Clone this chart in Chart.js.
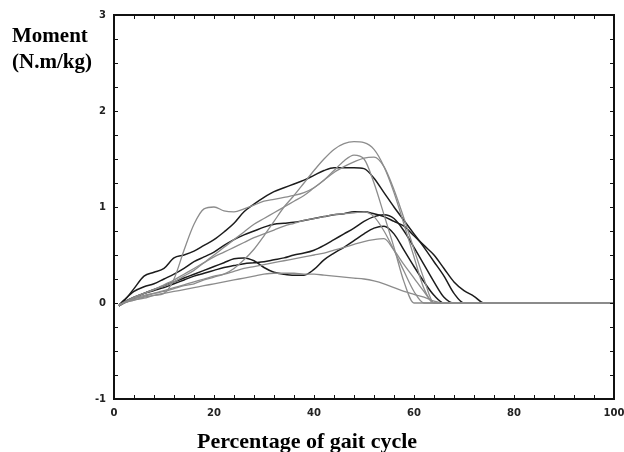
<!DOCTYPE html>
<html>
<head>
<meta charset="utf-8">
<script src="https://cdn.jsdelivr.net/npm/chart.js@4.4.1/dist/chart.umd.min.js"></script>
<style>
  html, body { margin: 0; padding: 0; background: #fff; }
  canvas { display: block; }
</style>
</head>
<body>
<canvas id="chart" width="624" height="452"></canvas>
<script>
// percentage of gait cycle (shared x grid)
const pct = [1, 2, 4, 6, 8, 10, 12, 14, 16, 18, 20, 22, 24, 26, 28, 30, 32, 34, 36, 38,
  40, 42, 44, 46, 48, 50, 52, 54, 56, 58, 60, 62, 64, 66, 68, 70, 72, 74, 100]

// moment curves (N.m/kg), one per trial
const trialA = [-0.02, 0, 0.05, 0.08, 0.1, 0.12, 0.15, 0.18, 0.2, 0.24, 0.27, 0.3, 0.36, 0.45, 0.56, 0.7, 0.85, 1.0, 1.12, 1.25,
  1.38, 1.5, 1.6, 1.66, 1.68, 1.67, 1.6, 1.42, 1.15, 0.82, 0.48, 0.15, 0, 0, 0, 0, 0, 0, 0]
const trialB = [-0.03, 0, 0.03, 0.06, 0.08, 0.1, 0.25, 0.55, 0.82, 0.98, 1.0, 0.96, 0.95, 0.98, 1.02, 1.06, 1.08, 1.1, 1.12, 1.15,
  1.2, 1.28, 1.38, 1.48, 1.54, 1.5, 1.25, 0.92, 0.58, 0.22, 0, 0, 0, 0, 0, 0, 0, 0, 0]
const trialC = [-0.02, 0, 0.06, 0.1, 0.14, 0.18, 0.22, 0.28, 0.34, 0.42, 0.5, 0.58, 0.66, 0.74, 0.82, 0.88, 0.94, 1.0, 1.06, 1.12,
  1.2, 1.28, 1.36, 1.42, 1.47, 1.51, 1.52, 1.42, 1.18, 0.88, 0.56, 0.25, 0, 0, 0, 0, 0, 0, 0]
const trialD = [-0.03, 0.02, 0.15, 0.28, 0.32, 0.36, 0.47, 0.5, 0.54, 0.6, 0.66, 0.74, 0.83, 0.95, 1.03, 1.1, 1.16, 1.2, 1.24, 1.28,
  1.33, 1.38, 1.41, 1.41, 1.41, 1.4, 1.3, 1.15, 1.0, 0.86, 0.72, 0.58, 0.43, 0.28, 0.1, 0, 0, 0, 0]
const trialE = [-0.02, 0.03, 0.12, 0.17, 0.2, 0.25, 0.3, 0.36, 0.43, 0.48, 0.53, 0.6, 0.66, 0.71, 0.75, 0.79, 0.82, 0.83, 0.84, 0.86,
  0.88, 0.9, 0.92, 0.93, 0.95, 0.95, 0.93, 0.9, 0.85, 0.8, 0.7, 0.6, 0.5, 0.36, 0.22, 0.13, 0.07, 0, 0]
const trialF = [-0.03, 0, 0.05, 0.1, 0.14, 0.18, 0.22, 0.26, 0.3, 0.34, 0.38, 0.42, 0.46, 0.47, 0.44, 0.37, 0.32, 0.3, 0.29, 0.29,
  0.35, 0.45, 0.52, 0.58, 0.65, 0.72, 0.78, 0.8, 0.72, 0.55, 0.38, 0.22, 0.08, 0, 0, 0, 0, 0, 0]
const trialG = [-0.02, 0, 0.03, 0.05, 0.08, 0.1, 0.12, 0.14, 0.16, 0.18, 0.2, 0.22, 0.24, 0.26, 0.28, 0.3, 0.31, 0.31, 0.31, 0.3,
  0.3, 0.29, 0.28, 0.27, 0.26, 0.25, 0.23, 0.2, 0.16, 0.12, 0.09, 0.06, 0.02, 0, 0, 0, 0, 0, 0]
const trialH = [-0.02, 0, 0.04, 0.07, 0.1, 0.13, 0.16, 0.19, 0.22, 0.25, 0.28, 0.3, 0.33, 0.36, 0.38, 0.4, 0.42, 0.44, 0.46, 0.48,
  0.5, 0.52, 0.55, 0.58, 0.61, 0.64, 0.66, 0.67, 0.55, 0.4, 0.26, 0.12, 0, 0, 0, 0, 0, 0, 0]
const trialI = [-0.03, 0.01, 0.06, 0.1, 0.13, 0.16, 0.2, 0.24, 0.28, 0.31, 0.34, 0.37, 0.39, 0.41, 0.42, 0.43, 0.45, 0.47, 0.5, 0.52,
  0.55, 0.6, 0.66, 0.72, 0.78, 0.85, 0.9, 0.92, 0.88, 0.75, 0.58, 0.4, 0.22, 0.06, 0, 0, 0, 0, 0]
const trialJ = [-0.02, 0.01, 0.06, 0.1, 0.14, 0.19, 0.24, 0.3, 0.36, 0.42, 0.48, 0.53, 0.58, 0.63, 0.68, 0.72, 0.76, 0.8, 0.83, 0.86,
  0.88, 0.9, 0.92, 0.93, 0.94, 0.95, 0.9, 0.75, 0.55, 0.33, 0.12, 0, 0, 0, 0, 0, 0, 0, 0]

// dark traces vs light grey traces
const darkTrials = [trialD, trialE, trialF, trialI]
const greyTrials = [trialA, trialB, trialC, trialG, trialH, trialJ]

// axis tick settings
const xTickStep = 20
const xMinorStep = 4
const yTickStep = 1
const yMinorStep = 0.25

const toPoints = vals => vals.map((v, i) => ({x: pct[i], y: v}))

const datasets = []
greyTrials.forEach(t => datasets.push({data: toPoints(t), borderColor: '#8c8c8c', borderWidth: 1.3}))
darkTrials.forEach(t => datasets.push({data: toPoints(t), borderColor: '#1c1c1c', borderWidth: 1.5}))

// draws the box frame, inward ticks and the free-standing titles
const frameAndTitles = {
  id: 'frameAndTitles',
  afterDraw(chart) {
    const {ctx, chartArea: a, scales: {x, y}} = chart
    ctx.save()
    ctx.strokeStyle = '#111'
    ctx.lineWidth = 1
    ctx.beginPath()
    for (let v = x.min; v <= x.max + 1e-9; v += xMinorStep) {
      const px = Math.round(x.getPixelForValue(v)) + 0.5
      ctx.moveTo(px, a.bottom); ctx.lineTo(px, a.bottom - 4)
      ctx.moveTo(px, a.top); ctx.lineTo(px, a.top + 4)
    }
    for (let v = y.min; v <= y.max + 1e-9; v += yMinorStep) {
      const py = Math.round(y.getPixelForValue(v)) + 0.5
      ctx.moveTo(a.left, py); ctx.lineTo(a.left + 4, py)
      ctx.moveTo(a.right, py); ctx.lineTo(a.right - 4, py)
    }
    ctx.stroke()
    ctx.lineWidth = 2
    ctx.strokeRect(a.left, a.top, a.right - a.left, a.bottom - a.top)

    ctx.fillStyle = '#000'
    ctx.textBaseline = 'alphabetic'
    ctx.textAlign = 'left'
    ctx.font = 'bold 21px "Liberation Serif", "Times New Roman", serif'
    ctx.fillText('Moment', 12, 42)
    ctx.fillText('(N.m/kg)', 12, 68)
    ctx.font = 'bold 22px "Liberation Serif", "Times New Roman", serif'
    ctx.fillText('Percentage of gait cycle', 197, 448)
    ctx.restore()
  }
}

const tickFont = {family: '"DejaVu Sans", sans-serif', size: 10, weight: 'bold'}

new Chart(document.getElementById('chart'), {
  type: 'line',
  data: {datasets},
  options: {
    responsive: false,
    animation: false,
    layout: {padding: {top: 15, right: 10, left: 0, bottom: 0}},
    elements: {
      point: {radius: 0},
      line: {tension: 0.3, cubicInterpolationMode: 'monotone', fill: false}
    },
    plugins: {legend: {display: false}, tooltip: {enabled: false}},
    scales: {
      x: {
        type: 'linear', min: 0, max: 100,
        ticks: {stepSize: xTickStep, color: '#222', font: tickFont, padding: 8, maxRotation: 0},
        grid: {display: false, drawTicks: false},
        border: {display: false},
        afterFit: s => { s.height = 53; s.paddingLeft = 0; s.paddingRight = 0 }
      },
      y: {
        min: -1, max: 3,
        ticks: {stepSize: yTickStep, color: '#222', font: tickFont, padding: 8},
        grid: {display: false, drawTicks: false},
        border: {display: false},
        afterFit: s => { s.width = 114; s.paddingTop = 0; s.paddingBottom = 0 }
      }
    }
  },
  plugins: [frameAndTitles]
})
</script>
</body>
</html>
